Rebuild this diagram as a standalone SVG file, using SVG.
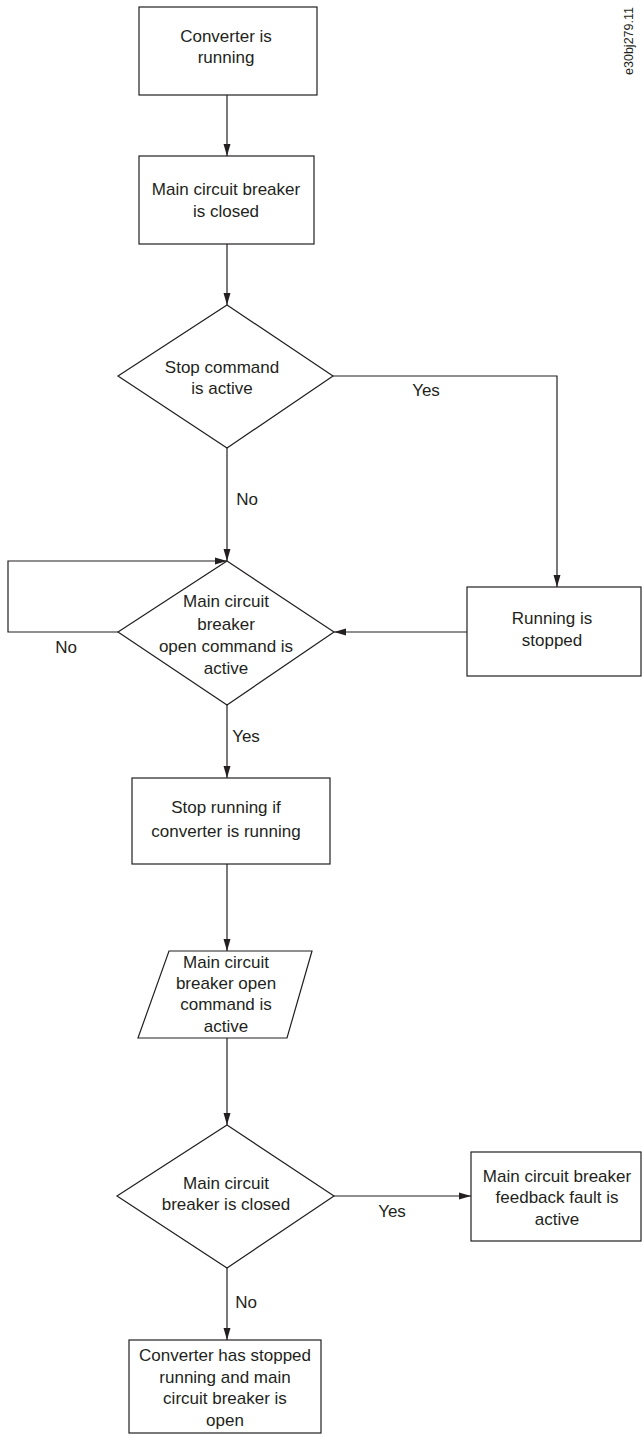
<svg xmlns="http://www.w3.org/2000/svg" width="642" height="1435" viewBox="0 0 642 1435">
<style>
.n{fill:#fff;stroke:#231f20;stroke-width:1.2}
.c{fill:none;stroke:#231f20;stroke-width:1.2;marker-end:url(#ah)}
.t{font-family:"Liberation Sans",Arial,sans-serif;font-size:17px;fill:#231f20;text-anchor:middle}
.id{font-family:"Liberation Sans",Arial,sans-serif;font-size:12.5px;fill:#231f20;text-anchor:middle}
</style>
<defs>
<marker id="ah" markerUnits="userSpaceOnUse" markerWidth="12" markerHeight="8" refX="12" refY="4" orient="auto">
<path d="M0,0.5 L12,4 L0,7.5 z" fill="#231f20"/>
</marker>
</defs>
<rect width="642" height="1435" fill="#fff"/>
<g id="connectors">
<path class="c" d="M227,95 V156"/>
<path class="c" d="M227,244 V305"/>
<path class="c" d="M333,376 H557 V587"/>
<path class="c" d="M227,448 V561"/>
<path class="c" d="M118,632 H8 V561 H227"/>
<path class="c" d="M467,632 H334"/>
<path class="c" d="M227,704 V778"/>
<path class="c" d="M227,864 V951"/>
<path class="c" d="M227,1038 V1125"/>
<path class="c" d="M334,1196 H471"/>
<path class="c" d="M227,1268 V1340"/>
<text class="t" x="426" y="396">Yes</text>
<text class="t" x="247" y="505">No</text>
<text class="t" x="66" y="653">No</text>
<text class="t" x="246" y="742">Yes</text>
<text class="t" x="392" y="1217">Yes</text>
<text class="t" x="246" y="1308">No</text>
</g>
<g id="start">
<rect class="n" x="139" y="7" width="178" height="88"/>
<text class="t" x="226" y="42">Converter is</text>
<text class="t" x="226" y="63">running</text>
</g>
<g id="mcb-closed">
<rect class="n" x="139" y="156" width="175" height="88"/>
<text class="t" x="226" y="195">Main circuit breaker</text>
<text class="t" x="226" y="217">is closed</text>
</g>
<g id="stop-cmd">
<path class="n" d="M227,305 L333,376 L227,448 L118,376 Z"/>
<text class="t" x="222" y="373">Stop command</text>
<text class="t" x="222" y="394">is active</text>
</g>
<g id="open-cmd">
<path class="n" d="M227,561 L334,632 L227,705 L118,632 Z"/>
<text class="t" x="226" y="607">Main circuit</text>
<text class="t" x="226" y="630">breaker</text>
<text class="t" x="226" y="652">open command is</text>
<text class="t" x="226" y="674">active</text>
</g>
<g id="running-stopped">
<rect class="n" x="467" y="587" width="174" height="89"/>
<text class="t" x="552" y="624">Running is</text>
<text class="t" x="552" y="646">stopped</text>
</g>
<g id="stop-running">
<rect class="n" x="132" y="778" width="198" height="86"/>
<text class="t" x="226" y="813">Stop running if</text>
<text class="t" x="226" y="837">converter is running</text>
</g>
<g id="open-cmd-io">
<path class="n" d="M169,951 L312,951 L287,1038 L138,1038 Z"/>
<text class="t" x="226" y="968">Main circuit</text>
<text class="t" x="226" y="989">breaker open</text>
<text class="t" x="226" y="1010">command is</text>
<text class="t" x="226" y="1032">active</text>
</g>
<g id="mcb-closed-check">
<path class="n" d="M227,1125 L334,1196 L227,1268 L117,1196 Z"/>
<text class="t" x="226" y="1189">Main circuit</text>
<text class="t" x="226" y="1210">breaker is closed</text>
</g>
<g id="feedback-fault">
<rect class="n" x="471" y="1152" width="170" height="89"/>
<text class="t" x="557" y="1182">Main circuit breaker</text>
<text class="t" x="557" y="1203">feedback fault is</text>
<text class="t" x="557" y="1225">active</text>
</g>
<g id="end">
<rect class="n" x="129" y="1340" width="192" height="93"/>
<text class="t" x="225" y="1361">Converter has stopped</text>
<text class="t" x="225" y="1383">running and main</text>
<text class="t" x="225" y="1404">circuit breaker is</text>
<text class="t" x="225" y="1426">open</text>
</g>
<g id="figure-id">
<text class="id" transform="translate(633,41) rotate(-90)">e30bj279.11</text>
</g>
</svg>
